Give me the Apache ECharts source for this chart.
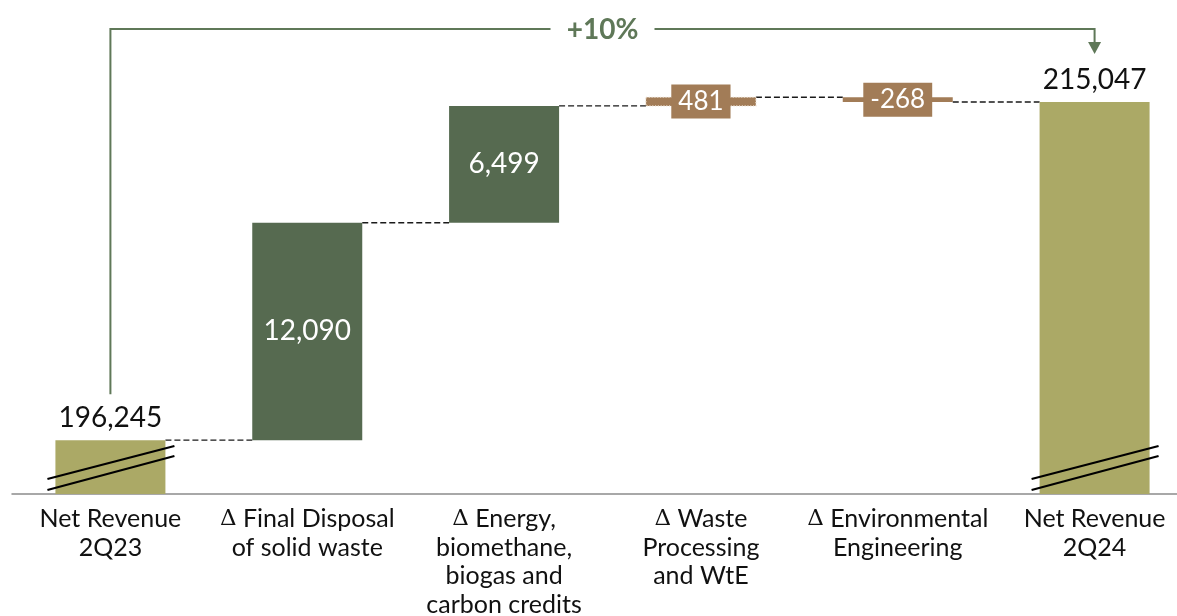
<!DOCTYPE html>
<html>
<head>
<meta charset="utf-8">
<script src="https://cdn.jsdelivr.net/npm/echarts@6/dist/echarts.min.js"></script>
<style>
  html, body { margin: 0; padding: 0; background: #ffffff; }
  #chart { width: 1177px; height: 616px; }
</style>
</head>
<body>
<div id="chart"></div>
<script>
// Net revenue bridge, 2Q23 -> 2Q24
const categories = [
  'Net Revenue\n2Q23',
  'Δ Final Disposal\nof solid waste',
  'Δ Energy,\nbiomethane,\nbiogas and\ncarbon credits',
  'Δ Waste\nProcessing\nand WtE',
  'Δ Environmental\nEngineering',
  'Net Revenue\n2Q24'
];
const startTotal = 196245;
const deltas = [12090, 6499, 481, -268];
const endTotal = 215047;

// value range of the (broken) vertical scale
const yMin = 193250;
const yMax = 219500;

const FONT = 'Lato, "Open Sans", sans-serif';
const C_TOTAL = '#aba966';
const C_UP = '#566a50';
const C_SMALL = '#a27c57';
const C_BRACKET = '#5f7858';

// running levels after each step
const levels = [startTotal];
deltas.forEach(d => levels.push(levels[levels.length - 1] + d));

// bar rows: [category index, low, high, value]
const barRows = [[0, yMin, startTotal, startTotal]];
deltas.forEach((d, k) => {
  const prev = levels[k];
  barRows.push([k + 1, Math.min(prev, prev + d), Math.max(prev, prev + d), d]);
});
barRows.push([categories.length - 1, yMin, endTotal, endTotal]);

// connector rows: [from index, level]
const connRows = levels.map((lv, k) => [k, lv]);

const BAR_W = 110;
const fmt = v => v.toLocaleString('en-US');

function slashes(cx, by) {
  const mk = (y1, y2) => ({
    type: 'line',
    shape: { x1: cx - 63, y1: by - y1, x2: cx + 64, y2: by - y2 },
    style: { stroke: '#000', lineWidth: 2.2 }
  });
  return [mk(15, 48), mk(4, 38)];
}

function renderBar(params, api) {
  const i = api.value(0), lo = api.value(1), hi = api.value(2), v = api.value(3);
  const a = api.coord([i, lo]);
  const b = api.coord([i, hi]);
  const cx = a[0];
  const x = cx - BAR_W / 2, y = b[1], h = a[1] - b[1];
  const isTotal = (i === 0 || i === categories.length - 1);
  const small = !isTotal && Math.abs(v) < 1000;
  const fill = isTotal ? C_TOTAL : (small ? C_SMALL : C_UP);
  const children = [{
    type: 'rect',
    shape: { x: x, y: y, width: BAR_W, height: h },
    style: small && v > 0
      ? { fill: fill, stroke: '#e9dccd', lineWidth: 1.2, lineDash: [1.2, 1.6] }
      : { fill: fill }
  }];
  if (isTotal) {
    children.push(...slashes(cx, a[1]));
    children.push({
      type: 'text',
      style: {
        text: fmt(v), x: cx, y: y - 22, align: 'center', verticalAlign: 'middle',
        font: '28px ' + FONT, fill: '#111'
      }
    });
  } else if (small) {
    children.push({
      type: 'text',
      z2: 10,
      style: {
        text: fmt(v), x: cx, y: y + h / 2, align: 'center', verticalAlign: 'middle',
        font: '26px ' + FONT, fill: '#ffffff',
        backgroundColor: C_SMALL, padding: [4, 7, 4, 7], lineHeight: 26
      }
    });
  } else {
    children.push({
      type: 'text',
      style: {
        text: fmt(v), x: cx, y: y + h / 2, align: 'center', verticalAlign: 'middle',
        font: '28px ' + FONT, fill: '#ffffff'
      }
    });
  }
  return { type: 'group', children: children };
}

function renderConnector(params, api) {
  const i = api.value(0), lv = api.value(1);
  const p = api.coord([i, lv]);
  const q = api.coord([i + 1, lv]);
  return {
    type: 'line',
    shape: { x1: p[0] + BAR_W / 2, y1: p[1], x2: q[0] - BAR_W / 2, y2: q[1] },
    style: { stroke: '#1a1a1a', lineWidth: 1.4, lineDash: [6, 3] }
  };
}

function renderBracket(params, api) {
  const last = categories.length - 1;
  const a = api.coord([0, startTotal]);
  const b = api.coord([last, endTotal]);
  const topY = params.coordSys.y + 7;
  const midX = (a[0] + b[0]) / 2;
  const gap = 52;
  const tipY = b[1] - 48;
  const pct = Math.round((endTotal / startTotal - 1) * 100);
  const lineStyle = { stroke: C_BRACKET, lineWidth: 2, fill: null };
  return {
    type: 'group',
    children: [
      { type: 'polyline', shape: { points: [[a[0], a[1] - 46], [a[0], topY], [midX - gap, topY]] }, style: lineStyle },
      { type: 'polyline', shape: { points: [[midX + gap, topY], [b[0], topY], [b[0], tipY - 12]] }, style: lineStyle },
      { type: 'polygon', shape: { points: [[b[0] - 6.5, tipY - 12], [b[0] + 6.5, tipY - 12], [b[0], tipY]] }, style: { fill: C_BRACKET } },
      {
        type: 'text',
        style: {
          text: (pct >= 0 ? '+' : '') + pct + '%', x: midX, y: topY + 1,
          align: 'center', verticalAlign: 'middle',
          font: 'bold 28px ' + FONT, fill: C_BRACKET
        }
      }
    ]
  };
}

const chart = echarts.init(document.getElementById('chart'), null, { renderer: 'canvas' });
chart.setOption({
  animation: false,
  backgroundColor: '#ffffff',
  grid: { left: 12, width: 1181, top: 22, bottom: 122, containLabel: false, outerBoundsMode: 'none' },
  xAxis: {
    type: 'category',
    data: categories,
    boundaryGap: true,
    axisTick: { show: false },
    axisLine: { lineStyle: { color: '#8c8c8c', width: 1.5 } },
    axisLabel: {
      interval: 0,
      margin: 11,
      color: '#111',
      fontFamily: FONT,
      fontSize: 25,
      lineHeight: 28.5,
      formatter: v => v.replace('Δ', '{d|Δ}'),
      rich: {
        d: { fontFamily: '"DejaVu Serif", "Liberation Serif", serif', fontSize: 23, lineHeight: 28.5, color: '#111' }
      }
    }
  },
  yAxis: { type: 'value', min: yMin, max: yMax, show: false, splitLine: { show: false } },
  series: [
    { type: 'custom', name: 'connectors', renderItem: renderConnector, data: connRows, encode: { x: 0, y: 1 }, z: 1 },
    { type: 'custom', name: 'bars', renderItem: renderBar, data: barRows, encode: { x: 0, y: [1, 2] }, z: 2 },
    { type: 'custom', name: 'bracket', renderItem: renderBracket, data: [[0, startTotal]], encode: { x: 0, y: 1 }, z: 3 }
  ]
});
</script>
</body>
</html>
